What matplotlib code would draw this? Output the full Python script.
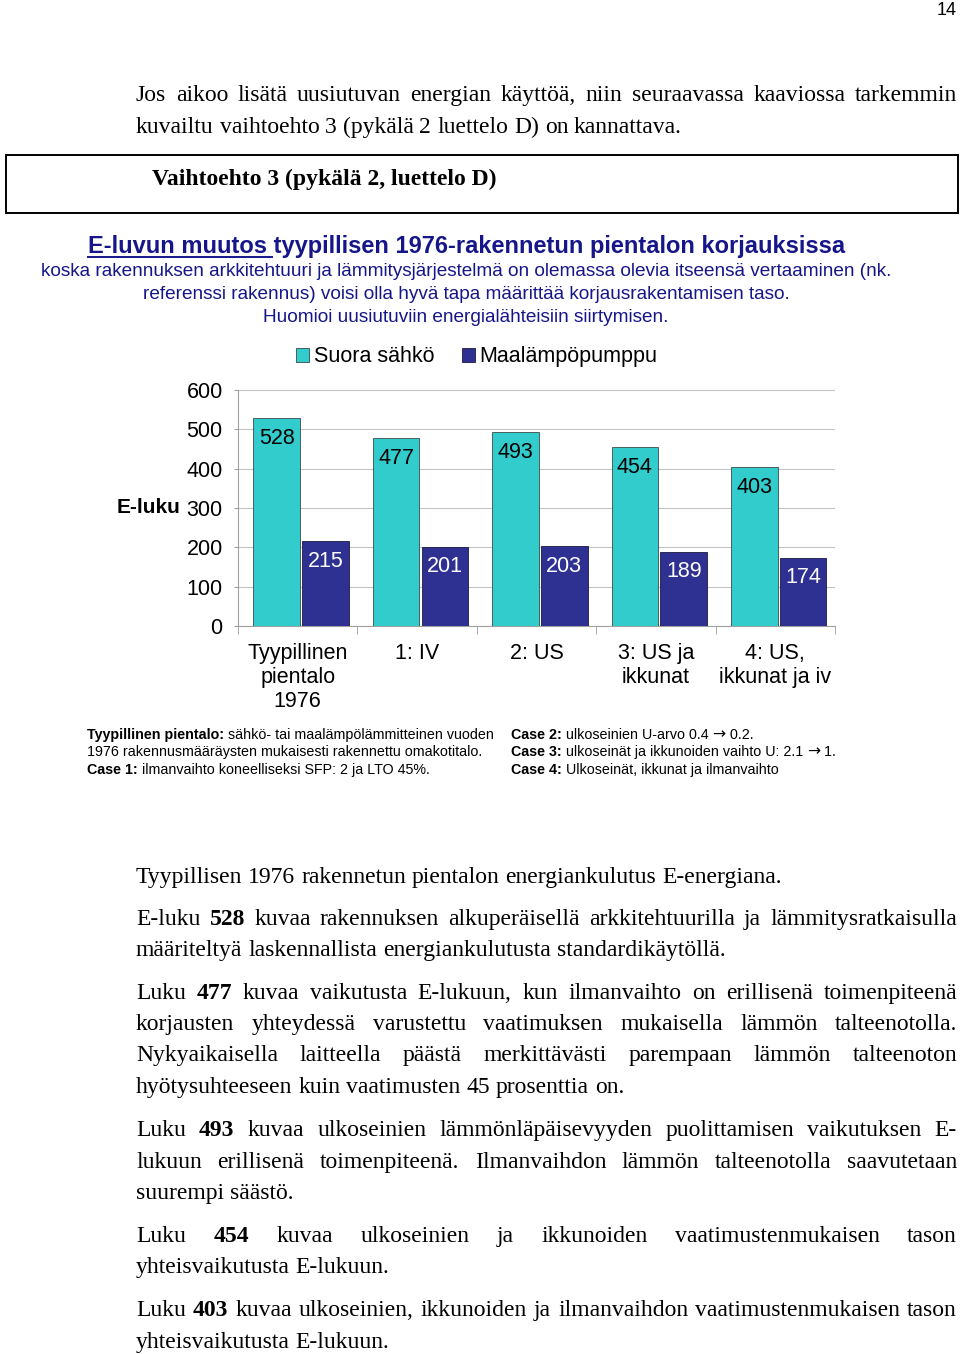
#!/usr/bin/env python
import matplotlib
matplotlib.use('Agg')
import matplotlib.pyplot as plt
from matplotlib.patches import Rectangle
import numpy

SANS = ['Liberation Sans', 'DejaVu Sans']
SERIF = ['Liberation Serif', 'DejaVu Serif']
NAVY_TXT = '#16168a'
CYAN = '#33cccc'
NAVY = '#2e3192'

# chart data
categories = ['Tyypillinen\npientalo\n1976', '1: IV', '2: US', '3: US ja\nikkunat', '4: US,\nikkunat ja iv']
suora_sahko = [528, 477, 493, 454, 403]
maalampopumppu = [215, 201, 203, 189, 174]
series_names = ['Suora sähkö', 'Maalämpöpumppu']
yticks = [0, 100, 200, 300, 400, 500, 600]

title_main = 'E-luvun muutos tyypillisen 1976-rakennetun pientalon korjauksissa'
subtitle = ['koska rakennuksen arkkitehtuuri ja lämmitysjärjestelmä on olemassa olevia itseensä vertaaminen (nk.',
            'referenssi rakennus) voisi olla hyvä tapa määrittää korjausrakentamisen taso.',
            'Huomioi uusiutuviin energialähteisiin siirtymisen.']

# (text, weight); the arrow pieces are drawn with DejaVu Sans
notes_left = [[('Tyypillinen pientalo:', 'bold'), (' sähkö- tai maalämpölämmitteinen vuoden', 'normal')],
              [('1976 rakennusmääräysten mukaisesti rakennettu omakotitalo.', 'normal')],
              [('Case 1:', 'bold'), (' ilmanvaihto koneelliseksi SFP: 2 ja LTO 45%.', 'normal')]]
notes_right = [[('Case 2:', 'bold'), (' ulkoseinien U-arvo 0.4 ', 'normal'), ('\u2192', 'arrow'), (' 0.2.', 'normal')],
               [('Case 3:', 'bold'), (' ulkoseinät ja ikkunoiden vaihto U: 2.1 ', 'normal'), ('\u2192', 'arrow'), (' 1.', 'normal')],
               [('Case 4:', 'bold'), (' Ulkoseinät, ikkunat ja ilmanvaihto', 'normal')]]

# body text: (line, justified); *word* = bold
intro = [('Jos aikoo lisätä uusiutuvan energian käyttöä, niin seuraavassa kaaviossa tarkemmin', True),
         ('kuvailtu vaihtoehto 3 (pykälä 2 luettelo D) on kannattava.', False)]
body = [
    [('Tyypillisen 1976 rakennetun pientalon energiankulutus E-energiana.', False)],
    [('E-luku *528* kuvaa rakennuksen alkuperäisellä arkkitehtuurilla ja lämmitysratkaisulla', True),
     ('määriteltyä laskennallista energiankulutusta standardikäytöllä.', False)],
    [('Luku *477* kuvaa vaikutusta E-lukuun, kun ilmanvaihto on erillisenä toimenpiteenä', True),
     ('korjausten yhteydessä varustettu vaatimuksen mukaisella lämmön talteenotolla.', True),
     ('Nykyaikaisella laitteella päästä merkittävästi parempaan lämmön talteenoton', True),
     ('hyötysuhteeseen kuin vaatimusten 45 prosenttia on.', False)],
    [('Luku *493* kuvaa ulkoseinien lämmönläpäisevyyden puolittamisen vaikutuksen E-', True),
     ('lukuun erillisenä toimenpiteenä. Ilmanvaihdon lämmön talteenotolla saavutetaan', True),
     ('suurempi säästö.', False)],
    [('Luku *454* kuvaa ulkoseinien ja ikkunoiden vaatimustenmukaisen tason', True),
     ('yhteisvaikutusta E-lukuun.', False)],
    [('Luku *403* kuvaa ulkoseinien, ikkunoiden ja ilmanvaihdon vaatimustenmukaisen tason', True),
     ('yhteisvaikutusta E-lukuun.', False)],
]
body_baselines = [[883], [925, 956], [999, 1030, 1061, 1093], [1136, 1168, 1199], [1242, 1273], [1316, 1348]]

fig = plt.figure(figsize=(9.6, 13.54), dpi=100)
pg = fig.add_axes([0, 0, 1, 1])
pg.set_xlim(0, 960)
pg.set_ylim(1354, 0)
pg.axis('off')
renderer = fig.canvas.get_renderer()

BODY_SIZE = 17
X0, X1 = 136, 957


def text_width(t):
    return t.get_window_extent(renderer).width


def put_line(y, line, justify, size=BODY_SIZE):
    texts = []
    for w in line.split(' '):
        bold = w.startswith('*') and w.endswith('*')
        texts.append(pg.text(0, y, w.strip('*'), fontsize=size, family=SERIF,
                             fontweight='bold' if bold else 'normal',
                             va='baseline', ha='left'))
    widths = [text_width(t) for t in texts]
    if justify and len(texts) > 1:
        gap = (X1 - X0 - sum(widths)) / (len(texts) - 1)
    else:
        probe = pg.text(0, 0, 'a a', fontsize=size, family=SERIF)
        probe2 = pg.text(0, 0, 'aa', fontsize=size, family=SERIF)
        gap = text_width(probe) - text_width(probe2)
        probe.remove()
        probe2.remove()
    x = X0
    for t, w in zip(texts, widths):
        t.set_x(x)
        x += w + gap


def put_rich(x, y, pieces, size=10.3):
    for s, wt in pieces:
        if wt == 'arrow':
            t = pg.text(x, y, s, fontsize=size + 1, family=['DejaVu Sans'],
                        va='baseline', ha='left')
        else:
            t = pg.text(x, y, s, fontsize=size, fontweight=wt, family=SANS,
                        va='baseline', ha='left')
        x += text_width(t)


# page number and intro
pg.text(957, 15, '14', fontsize=13, family=SANS, ha='right', va='baseline')
for (line, just), yb in zip(intro, [101, 133]):
    put_line(yb, line, just)

# boxed heading
pg.add_patch(Rectangle((6, 155), 952, 58, fill=False, lw=1.4, ec='black'))
pg.text(152, 185, 'Vaihtoehto 3 (pykälä 2, luettelo D)', fontsize=17,
        fontweight='bold', family=SERIF, va='baseline', ha='left')

# chart title
title = pg.text(467, 253, title_main, fontsize=17, fontweight='bold', family=SANS,
                color=NAVY_TXT, ha='center', va='baseline')
tx0 = title.get_window_extent(renderer).x0
probe = pg.text(0, 0, 'E-luvun muutos', fontsize=17, fontweight='bold', family=SANS)
ulen = text_width(probe) + 5
probe.remove()
pg.plot([tx0, tx0 + ulen], [257, 257], color=NAVY_TXT, lw=1.4)
for line, yb in zip(subtitle, [276, 299, 322]):
    pg.text(466, yb, line, fontsize=13.7, family=SANS, color=NAVY_TXT,
            ha='center', va='baseline')

# notes
for pieces, yb in zip(notes_left, [739, 756, 774]):
    put_rich(87, yb, pieces)
for pieces, yb in zip(notes_right, [739, 756, 774]):
    put_rich(511, yb, pieces)

# body
for para, ybs in zip(body, body_baselines):
    for (line, just), yb in zip(para, ybs):
        put_line(yb, line, just)

# bar chart
ax = fig.add_axes([238 / 960, 1 - 626 / 1354, 597 / 960, 236 / 1354])
x = numpy.arange(len(categories))
w = 0.39
b1 = ax.bar(x - 0.176, suora_sahko, w, color=CYAN, edgecolor='#3a4a4a',
            linewidth=0.6, label=series_names[0], zorder=3)
b2 = ax.bar(x + 0.233, maalampopumppu, w, color=NAVY, edgecolor='#1a1a40',
            linewidth=0.6, label=series_names[1], zorder=3)
for rect, v in zip(b1, suora_sahko):
    ax.annotate(str(v), (rect.get_x() + rect.get_width() / 2, v), xytext=(0, -20),
                textcoords='offset pixels', ha='center', va='center',
                fontsize=15.5, family=SANS, color='black', zorder=4)
for rect, v in zip(b2, maalampopumppu):
    ax.annotate(str(v), (rect.get_x() + rect.get_width() / 2, v), xytext=(0, -20),
                textcoords='offset pixels', ha='center', va='center',
                fontsize=15.5, family=SANS, color='white', zorder=4)

ax.set_xlim(-0.5, len(categories) - 0.5)
ax.set_ylim(0, 600)
ax.set_yticks(yticks)
ax.set_yticklabels([str(t) for t in yticks], family=SANS, fontsize=15.5)
ax.set_xticks(x)
ax.set_xticklabels(categories, family=SANS, fontsize=15.5, linespacing=1.2)
ax.set_xticks(numpy.arange(-0.5, len(categories)), minor=True)
ax.tick_params(axis='x', which='major', length=0, pad=12)
ax.tick_params(axis='x', which='minor', length=6, color='#a0a0a0')
ax.tick_params(axis='y', length=3, pad=8, color='#a0a0a0')
ax.yaxis.grid(True, color='#c4c4c4', lw=0.8, zorder=0)
ax.set_axisbelow(True)
for s in ['top', 'right']:
    ax.spines[s].set_visible(False)
for s in ['left', 'bottom']:
    ax.spines[s].set_color('#a0a0a0')
ax.text(-0.097, 300, 'E-luku', transform=ax.get_yaxis_transform(), ha='right',
        va='center', fontsize=15, fontweight='bold', family=SANS)
leg = ax.legend(loc='center', bbox_to_anchor=(0.40, 1.14), ncol=2, frameon=False,
                prop={'family': SANS, 'size': 15.5}, handlelength=0.6,
                handleheight=0.6, handletextpad=0.2, columnspacing=1.3)

fig.savefig('out.png', dpi=100, facecolor='white')
